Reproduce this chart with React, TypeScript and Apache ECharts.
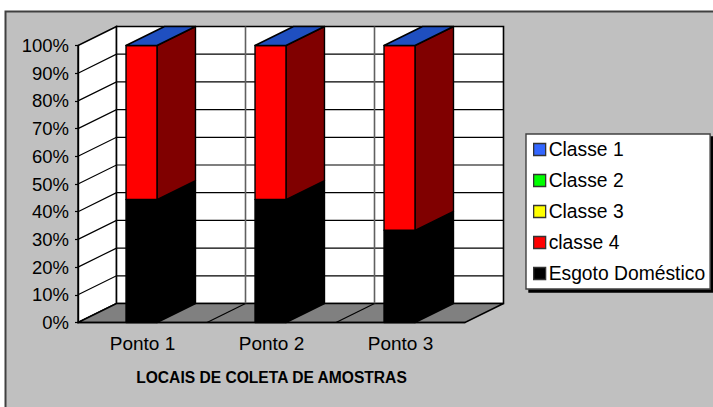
import React, { useEffect, useRef } from "react";
import * as echarts from "echarts";

const categories = ["Ponto 1", "Ponto 2", "Ponto 3"];
const esgotoDomestico = [44.4, 44.4, 33.3];
const classe4 = [55.6, 55.6, 66.7];
const classe3 = [0, 0, 0];
const classe2 = [0, 0, 0];
const classe1 = [0, 0, 0];
const yTicks = [0, 10, 20, 30, 40, 50, 60, 70, 80, 90, 100];
const xTitle = "LOCAIS DE COLETA DE AMOSTRAS";

const stackOrder = [
  { name: "Esgoto Doméstico", values: esgotoDomestico, front: "#000000", side: "#000000", legend: "#000000" },
  { name: "classe 4", values: classe4, front: "#ff0000", side: "#800000", legend: "#ff0000" },
  { name: "Classe 3", values: classe3, front: "#ffff00", side: "#808000", legend: "#ffff00" },
  { name: "Classe 2", values: classe2, front: "#00ff00", side: "#008000", legend: "#00ff00" },
  { name: "Classe 1", values: classe1, front: "#3366ff", side: "#1f4fc0", legend: "#3366ff" },
];

const DX = 38.5;
const DY = 19;

export default function App() {
  const ref = useRef<HTMLDivElement>(null);
  useEffect(() => {
    const chart = echarts.init(ref.current!, null, { renderer: "svg" });
    const running = categories.map(() => 0);
    const barSeries = stackOrder.map((s, si) => {
      const data = s.values.map((v, i) => {
        const item = [i, running[i], running[i] + v];
        running[i] += v;
        return item;
      });
      const isTop = si === stackOrder.length - 1;
      return {
        type: "custom",
        name: s.name,
        z: 3 + si,
        clip: false,
        itemStyle: { color: s.legend },
        data,
        encode: { x: 0, y: 2 },
        renderItem: (_p: any, api: any) => {
          const band = api.size([1, 0])[0];
          const w = band * 0.24;
          const a = api.coord([api.value(0), api.value(1)]);
          const b = api.coord([api.value(0), api.value(2)]);
          const l = a[0] - w / 2 - 1;
          const r = l + w;
          const children: any[] = [];
          const line = { stroke: "#000", lineWidth: 1.4, lineJoin: "round" };
          if (a[1] - b[1] > 0.01) {
            children.push({
              type: "polygon",
              shape: { points: [[r, a[1]], [r + DX, a[1] - DY], [r + DX, b[1] - DY], [r, b[1]]] },
              style: { fill: s.side, ...line },
            });
            children.push({
              type: "rect",
              shape: { x: l, y: b[1], width: w, height: a[1] - b[1] },
              style: { fill: s.front, ...line },
            });
          }
          if (isTop) {
            children.push({
              type: "polygon",
              shape: { points: [[l, b[1]], [r, b[1]], [r + DX, b[1] - DY], [l + DX, b[1] - DY]] },
              style: { fill: s.side, stroke: "#000", lineWidth: 1.6, lineJoin: "round" },
            });
          }
          return { type: "group", children };
        },
      };
    });

    const wallSeries = {
      type: "custom",
      name: "walls",
      z: -1,
      silent: true,
      clip: false,
      data: [[0, 0]],
      renderItem: (p: any, api: any) => {
        const c = p.coordSys;
        const x0 = c.x;
        const x1 = c.x + c.width;
        const yTop = c.y;
        const yBot = c.y + c.height;
        const children: any[] = [
          { type: "polygon", shape: { points: [[x0, yBot], [x0, yTop], [x0 + DX, yTop - DY], [x0 + DX, yBot - DY]] }, style: { fill: "#fff", stroke: "#000", lineWidth: 1.4 } },
          { type: "rect", shape: { x: x0 + DX, y: yTop - DY, width: c.width, height: c.height }, style: { fill: "#fff", stroke: "#000", lineWidth: 1.6 } },
          { type: "polygon", shape: { points: [[x0, yBot], [x1, yBot], [x1 + DX, yBot - DY], [x0 + DX, yBot - DY]] }, style: { fill: "#808080", stroke: "#000", lineWidth: 1.4 } },
        ];
        yTicks.slice(1, -1).forEach((t) => {
          const y = api.coord([0, t])[1];
          children.push({ type: "polyline", shape: { points: [[x0, y], [x0 + DX, y - DY], [x1 + DX, y - DY]] }, style: { stroke: "#000", lineWidth: 1.2, fill: "none" } });
        });
        categories.slice(1).forEach((_, i) => {
          const x = x0 + (c.width / categories.length) * (i + 1);
          children.push({ type: "line", shape: { x1: x + DX, y1: yTop - DY, x2: x + DX, y2: yBot - DY }, style: { stroke: "#606060", lineWidth: 1.6 } });
          children.push({ type: "line", shape: { x1: x, y1: yBot, x2: x + DX, y2: yBot - DY }, style: { stroke: "#000", lineWidth: 1.2 } });
        });
        return { type: "group", children };
      },
    };

    chart.setOption({
      animation: false,
      backgroundColor: "#ffffff",
      textStyle: { fontFamily: "Liberation Sans" },
      graphic: {
        elements: [
          { type: "rect", z: -10, silent: true, shape: { x: 5.5, y: 11.5, width: 760, height: 440 }, style: { fill: "#c0c0c0", stroke: "#404040", lineWidth: 2 } },
        ],
      },
      grid: { left: 78, top: 45.5, width: 387, height: 277, containLabel: false },
      xAxis: {
        type: "category",
        data: categories,
        name: xTitle,
        nameLocation: "middle",
        nameGap: 47,
        nameTextStyle: { color: "#000", fontSize: 15.6, fontWeight: "bold", fontFamily: "Liberation Sans" },
        axisLine: { show: true, lineStyle: { color: "#000", width: 1.4 } },
        axisTick: { show: false },
        axisLabel: { color: "#000", fontSize: 19, margin: 11, fontFamily: "Liberation Sans" },
        splitLine: { show: false },
      },
      yAxis: {
        type: "value",
        min: 0,
        max: 100,
        interval: 10,
        axisLine: { show: true, lineStyle: { color: "#000", width: 1.4 } },
        axisTick: { show: true, length: 3, lineStyle: { color: "#000", width: 1.2 } },
        axisLabel: { color: "#000", fontSize: 18.5, margin: 9, formatter: "{value}%", fontFamily: "Liberation Sans" },
        splitLine: { show: false },
      },
      legend: {
        show: true,
        left: 526,
        top: 134,
        orient: "vertical",
        align: "left",
        backgroundColor: "#ffffff",
        borderColor: "#404040",
        borderWidth: 1.4,
        shadowColor: "#000000",
        shadowOffsetX: 3,
        shadowOffsetY: 3,
        shadowBlur: 0,
        padding: [6, 5, 6, 7],
        itemWidth: 12,
        itemHeight: 12,
        itemGap: 12,
        textStyle: { color: "#000", fontSize: 19.3, fontFamily: "Liberation Sans", padding: [0, 0, 6, -2] },
        data: [...stackOrder].reverse().map((s) => ({
          name: s.name,
          icon: "rect",
          itemStyle: { color: s.legend, borderColor: "#333", borderWidth: 1.3 },
        })),
      },
      series: [wallSeries, ...barSeries],
    });
    return () => chart.dispose();
  }, []);
  return <div ref={ref} style={{ position: "absolute", left: 0, top: 0, width: 713, height: 407 }} />;
}
